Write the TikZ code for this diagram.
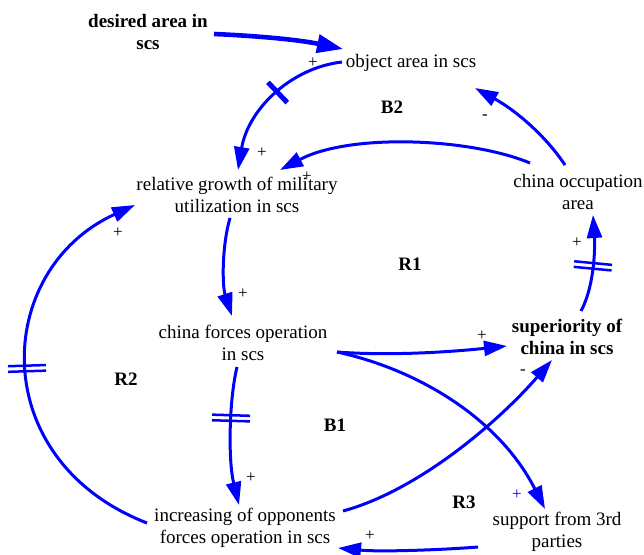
\documentclass[tikz,border=0pt]{standalone}
\usepackage{fontspec}
\setmainfont{Liberation Serif}
\usetikzlibrary{arrows.meta,decorations.markings,calc}
\tikzset{
  var/.style={font=\fontsize{19}{22}\selectfont, align=center, inner sep=0pt},
  varb/.style={font=\fontsize{19}{22}\selectfont\bfseries, align=center, inner sep=0pt},
  looplabel/.style={font=\fontsize{19}{22}\selectfont\bfseries, inner sep=0pt},
  sign/.style={font=\fontsize{17}{17}\selectfont, inner sep=0pt},
  causal/.style={draw=blue, line width=3pt, -{Triangle[length=23pt,width=15pt]}},
  causalheavy/.style={draw=blue, line width=4.6pt, -{Triangle[length=26pt,width=18pt]}},
  delay1/.style={postaction={decorate, decoration={markings,
      mark=at position #1 with {\draw[blue, line width=5pt, arrows=-] (0pt,-14pt) -- (0pt,14pt);}}}},
  delay2/.style={postaction={decorate, decoration={markings,
      mark=at position #1 with {
        \draw[blue, line width=2.5pt, arrows=-] (-2.8pt,-19pt) -- (-2.8pt,19pt);
        \draw[blue, line width=2.5pt, arrows=-] (2.8pt,-19pt) -- (2.8pt,19pt);}}}},
}
\begin{document}
\begin{tikzpicture}[x=1pt, y=-1pt]
  \fill[white] (0,0) rectangle (644,554);
  \useasboundingbox (0,0) rectangle (644,554);

  % variables
  \node[varb] (des)  at (148,32)  {desired area in\\scs};
  \node[var]  (obj)  at (411,63)  {object area in scs};
  \node[var]  (rel)  at (237,195) {relative growth of military\\utilization in scs};
  \node[var]  (occ)  at (578,192) {china occupation\\area};
  \node[var]  (cfo)  at (243,343) {china forces operation\\in scs};
  \node[varb] (sup)  at (567,337) {superiority of\\china in scs};
  \node[var]  (inc)  at (245,528) {increasing of opponents\\forces operation in scs};
  \node[var]  (trd)  at (557,532) {support from 3rd\\parties};

  % loop identifiers
  \node[looplabel] (lB2) at (392,107) {B2};
  \node[looplabel] (lR1) at (410,264) {R1};
  \node[looplabel] (lR2) at (126,379) {R2};
  \node[looplabel] (lB1) at (335,425) {B1};
  \node[looplabel] (lR3) at (464,502) {R3};

  % causal links
  \draw[causalheavy] ($(des)+(66,2)$) .. controls (260,36) and (300,40) .. ($(obj)+(-68,-14)$);
  \draw[causal, delay1=0.45] ($(obj)+(-69,-1)$) .. controls (290,68) and (248,110) .. ($(rel)+(1,-25)$);
  \draw[causal] ($(occ)+(-48,-29)$) .. controls (470,138) and (350,133) .. ($(rel)+(43,-25)$);
  \draw[causal] ($(occ)+(-13,-27)$) .. controls (545,135) and (515,110) .. ($(obj)+(64,25)$);
  \draw[causal] ($(rel)+(-7,23)$) .. controls (222,245) and (222,285) .. ($(cfo)+(-11,-27)$);
  \draw[causal, delay2=0.37] ($(cfo)+(-6,24)$) .. controls (229,400) and (228,460) .. ($(inc)+(-6,-23)$);
  \draw[causal, delay2=0.5] ($(inc)+(-98,-5)$) .. controls (-15,460) and (-7,270) .. ($(rel)+(-102,10)$);
  \draw[causal] ($(cfo)+(94,9)$) .. controls (390,356) and (450,352) .. ($(sup)+(-60,9)$);
  \draw[causal] ($(cfo)+(94,9)$) .. controls (420,370) and (500,420) .. ($(trd)+(-12,-23)$);
  \draw[causal] ($(inc)+(98,-17)$) .. controls (420,490) and (500,420) .. ($(sup)+(-15,23)$);
  \draw[causal, delay2=0.48] ($(sup)+(14,-26)$) .. controls (595,285) and (595,245) .. ($(occ)+(15,23)$);
  \draw[causal] ($(trd)+(-79,15)$) .. controls (440,550) and (380,552) .. ($(inc)+(93,20)$);

  % polarities
  \node[sign] (s1)  at (313,63)  {+};
  \node[sign] (s2)  at (262,153) {+};
  \node[sign] (s3)  at (307,177) {+};
  \node[sign] (s4)  at (485,117) {-};
  \node[sign] (s5)  at (118,233) {+};
  \node[sign] (s6)  at (243,294) {+};
  \node[sign] (s7)  at (577,243) {+};
  \node[sign] (s8)  at (482,336) {+};
  \node[sign] (s9)  at (523,372) {-};
  \node[sign] (s10) at (251,478) {+};
  \node[sign] (s11) at (370,536) {+};
  \node[sign, text=blue] (s12) at (517,495) {+};
\end{tikzpicture}
\end{document}
